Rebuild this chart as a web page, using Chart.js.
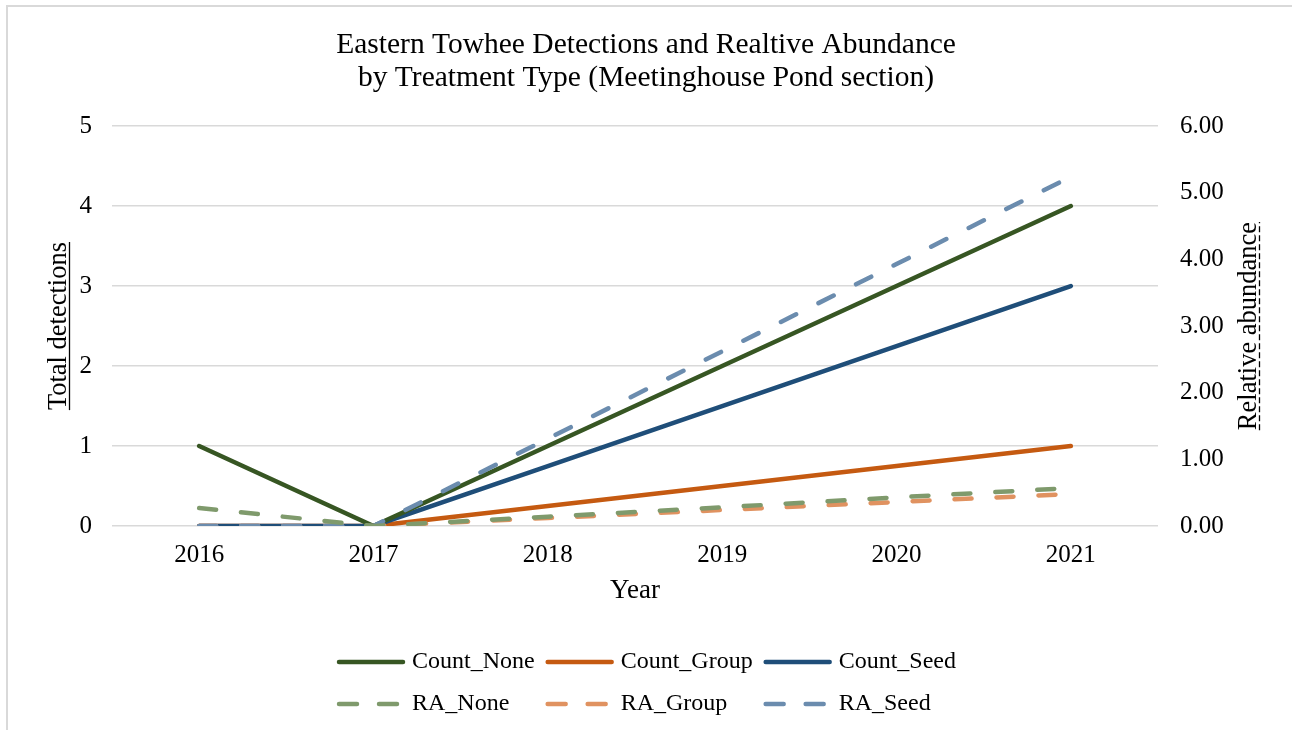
<!DOCTYPE html>
<html lang="en">
<head>
    <meta charset="UTF-8">
    <title>Eastern Towhee</title>
    <script src="https://cdn.jsdelivr.net/npm/chart.js"></script>
    <style>
        body { margin: 0; background: #fff; }
        .wrap { position: relative; width: 1292px; height: 730px; overflow: hidden; }
        .frame { position: absolute; left: 6px; top: 5px; width: 1400px; height: 800px;
                 border-left: 2px solid #d9d9d9; border-top: 2px solid #d9d9d9; }
        canvas { position: absolute; left: 0; top: 0; }
    </style>
</head>
<body>
    <div class="wrap">
        <div class="frame"></div>
        <canvas id="myChart" width="1292" height="730"></canvas>
    </div>
    <script>
        const years = ['2016', '2017', '2018', '2019', '2020', '2021'];

        // total detections (left axis)
        const countNone = [1, 0, 1, 2, 3, 4];
        const countGroup = [0, 0, 0.25, 0.5, 0.75, 1];
        const countSeed = [0, 0, 0.75, 1.5, 2.25, 3];

        // relative abundance (right axis)
        const raNone = [0.27, 0, 0.14, 0.28, 0.43, 0.57];
        const raGroup = [0, 0, 0.12, 0.24, 0.36, 0.48];
        const raSeed = [0, 0, 1.31, 2.62, 3.93, 5.24];

        const leftTicks = [0, 1, 2, 3, 4, 5];
        const rightTicks = ['0.00', '1.00', '2.00', '3.00', '4.00', '5.00', '6.00'];

        const serif = '"Liberation Serif", "Times New Roman", serif';
        const dash = [17, 25];

        function solid(label, data, color, order) {
            return {
                label: label, data: data, yAxisID: 'y', order: order,
                borderColor: color, backgroundColor: color,
                borderWidth: 4.5, pointRadius: 0, borderCapStyle: 'round', tension: 0
            };
        }
        function dashed(label, data, color, order) {
            return {
                label: label, data: data, yAxisID: 'y1', order: order,
                borderColor: color, backgroundColor: color,
                borderWidth: 4.5, borderDash: dash, pointRadius: 0, borderCapStyle: 'round', tension: 0
            };
        }

        // axis titles with underline, both read bottom-to-top
        const axisTitles = {
            id: 'axisTitles',
            afterDraw(chart) {
                const ctx = chart.ctx;
                const cy = (chart.chartArea.top + chart.chartArea.bottom) / 2;
                const items = [
                    { text: 'Total detections', x: 66, dashed: false },
                    { text: 'Relative abundance', x: 1256, dashed: true }
                ];
                ctx.save();
                ctx.font = '26.5px ' + serif;
                ctx.fillStyle = '#000';
                ctx.strokeStyle = '#000';
                items.forEach(it => {
                    ctx.save();
                    ctx.translate(it.x, cy);
                    ctx.rotate(-Math.PI / 2);
                    ctx.textAlign = 'center';
                    ctx.textBaseline = 'alphabetic';
                    ctx.fillText(it.text, 0, 0);
                    const w = ctx.measureText(it.text).width;
                    ctx.lineWidth = 1.3;
                    ctx.setLineDash(it.dashed ? [6, 3] : []);
                    ctx.beginPath();
                    ctx.moveTo(-w / 2, 3.5);
                    ctx.lineTo(w / 2, 3.5);
                    ctx.stroke();
                    ctx.restore();
                });
                ctx.restore();
            }
        };

        // legend in two rows of three, columns aligned
        const gridLegend = {
            id: 'gridLegend',
            afterDraw(chart) {
                const ctx = chart.ctx;
                const sets = chart.data.datasets;
                const rows = [[0, 1, 2], [3, 4, 5]];
                const rowY = [chart.height - 68, chart.height - 26];
                const sample = 70, gap = 6, colGap = 10;
                ctx.save();
                ctx.font = '24px ' + serif;
                const colW = [0, 1, 2].map(c => Math.max(
                    ctx.measureText(sets[rows[0][c]].label).width,
                    ctx.measureText(sets[rows[1][c]].label).width));
                let total = 0;
                colW.forEach((w, c) => { total += sample + gap + w + (c < 2 ? colGap : 0); });
                let x0 = chart.width / 2 - total / 2;
                const colX = [];
                colW.forEach(w => { colX.push(x0); x0 += sample + gap + w + colGap; });
                rows.forEach((r, ri) => {
                    r.forEach((di, c) => {
                        const ds = sets[di];
                        const y = rowY[ri];
                        ctx.strokeStyle = ds.borderColor;
                        ctx.lineWidth = 4.5;
                        ctx.lineCap = 'round';
                        ctx.setLineDash(ds.borderDash ? [18, 22] : []);
                        ctx.beginPath();
                        ctx.moveTo(colX[c] + 3, y);
                        ctx.lineTo(colX[c] + sample - 3, y);
                        ctx.stroke();
                        ctx.setLineDash([]);
                        ctx.fillStyle = '#000';
                        ctx.textBaseline = 'middle';
                        ctx.textAlign = 'left';
                        ctx.fillText(ds.label, colX[c] + sample + gap, y);
                    });
                });
                ctx.restore();
            }
        };

        const ctx = document.getElementById('myChart').getContext('2d');
        const myChart = new Chart(ctx, {
            type: 'line',
            data: {
                labels: years,
                datasets: [
                    solid('Count_None', countNone, '#375623', 2),
                    solid('Count_Group', countGroup, '#c55a11', 4),
                    solid('Count_Seed', countSeed, '#1f4e79', 3),
                    dashed('RA_None', raNone, '#7f9a6c', 0),
                    dashed('RA_Group', raGroup, '#e09260', 1),
                    dashed('RA_Seed', raSeed, '#6b8cae', 0.5)
                ]
            },
            plugins: [axisTitles, gridLegend],
            options: {
                responsive: false,
                animation: false,
                layout: { padding: { left: 0, right: 0, top: 0, bottom: 114 } },
                plugins: {
                    legend: { display: false },
                    tooltip: { enabled: false },
                    title: {
                        display: true,
                        text: ['Eastern Towhee Detections and Realtive Abundance',
                               'by Treatment Type (Meetinghouse Pond section)'],
                        color: '#000',
                        font: { family: serif, size: 29.5, weight: 'normal', lineHeight: 1.12 },
                        padding: { top: 28.5, bottom: 31.5 }
                    }
                },
                scales: {
                    x: {
                        offset: true,
                        grid: { display: false },
                        border: { display: false },
                        ticks: { color: '#000', font: { family: serif, size: 25 }, padding: 6 },
                        title: {
                            display: true, text: 'Year', color: '#000',
                            font: { family: serif, size: 27, lineHeight: 1.2 },
                            padding: { top: 0, bottom: 9 }
                        },
                        afterFit(s) { s.height = 90; }
                    },
                    y: {
                        position: 'left',
                        min: 0, max: 5,
                        afterBuildTicks(s) { s.ticks = leftTicks.map(v => ({ value: v })); },
                        grid: { color: '#d9d9d9', lineWidth: 1.5, drawTicks: false },
                        border: { display: false },
                        ticks: { color: '#000', font: { family: serif, size: 25 }, padding: 20 },
                        afterFit(s) { s.width = 112; }
                    },
                    y1: {
                        position: 'right',
                        min: 0, max: 6,
                        afterBuildTicks(s) { s.ticks = rightTicks.map(v => ({ value: parseFloat(v) })); },
                        grid: { display: false, drawTicks: false },
                        border: { display: false },
                        ticks: {
                            color: '#000', font: { family: serif, size: 25 }, padding: 22,
                            callback: (v, i) => rightTicks[i]
                        },
                        afterFit(s) { s.width = 134; }
                    }
                }
            }
        });
    </script>
</body>
</html>
